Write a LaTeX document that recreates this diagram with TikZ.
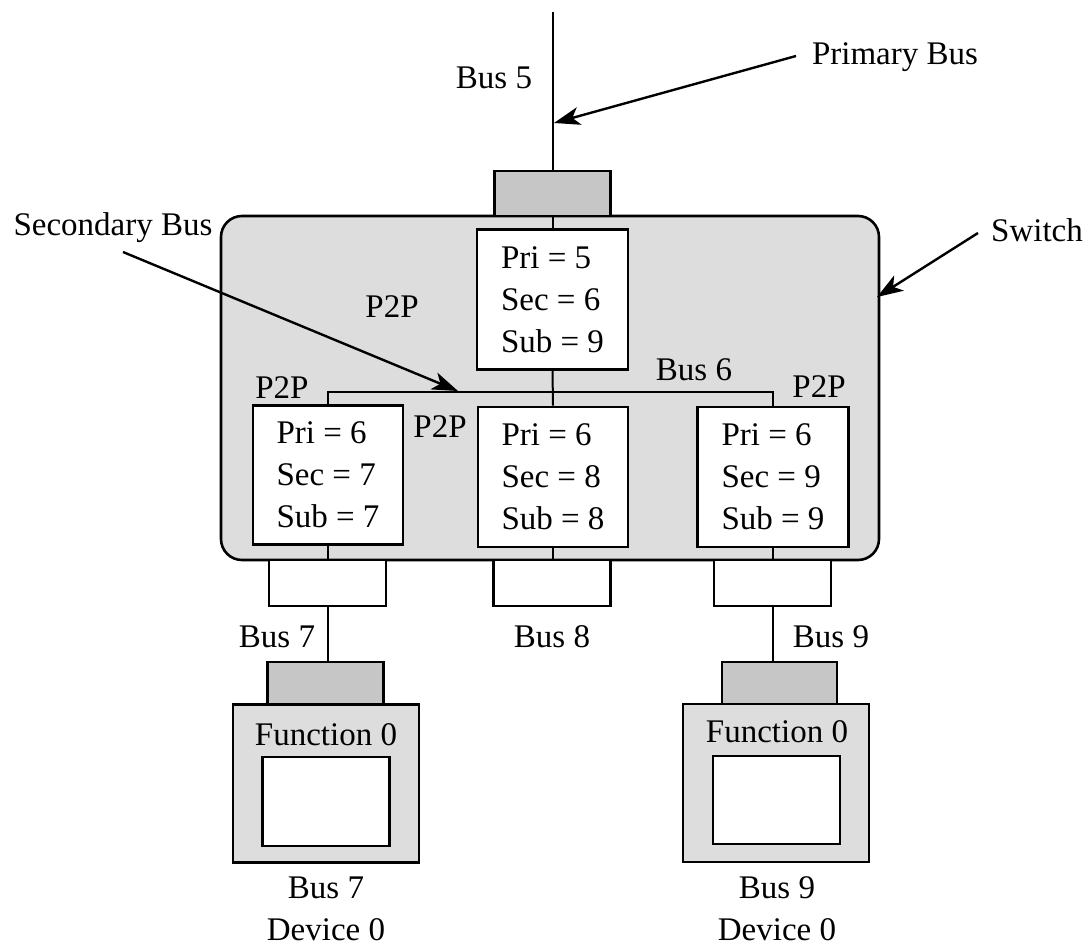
\documentclass[tikz,border=0pt]{standalone}
\usepackage{fontspec}
\setmainfont{Liberation Serif}
\usetikzlibrary{arrows.meta}
\definecolor{swgray}{RGB}{221,221,221}
\definecolor{congray}{RGB}{198,198,198}
\tikzset{
  lbl/.style={font=\fontsize{33}{42}\selectfont, inner sep=0pt, align=center},
  box/.style={draw, line width=2.6pt, inner sep=0pt, anchor=center},
  regbox/.style={box, fill=white, align=left, font=\fontsize{33}{42}\selectfont, minimum width=151pt, minimum height=140pt},
  graycon/.style={box, fill=congray},
  whitecon/.style={box, fill=white},
  busline/.style={line width=2pt},
  pointer/.style={line width=2.4pt, -{Stealth[length=26pt,width=18pt,inset=7pt]}}
}
\begin{document}
\begin{tikzpicture}[x=1pt,y=-1pt]
\useasboundingbox (0,0) rectangle (1086,952);
% switch
\node[box, fill=swgray, rounded corners=21pt, minimum width=658pt, minimum height=344pt] (sw) at (550,388) {};
% primary connector
\node[graycon, minimum width=116pt, minimum height=45pt] (pc) at (552.5,193.5) {};
\coordinate (b5top) at (553,12);
\draw[busline] (b5top) -- (b5top |- pc.north);
% P2P boxes
\node[regbox] (t) at (552.5,299.5) {Pri = 5\\Sec = 6\\Sub = 9};
\node[regbox, minimum width=150pt, minimum height=139pt] (l) at (328,475) {Pri = 6\\Sec = 7\\Sub = 7};
\node[regbox, minimum width=150pt] (m) at (553,477) {Pri = 6\\Sec = 8\\Sub = 8};
\node[regbox] (r) at (773,477) {Pri = 6\\Sec = 9\\Sub = 9};
\draw[busline] (pc.south -| t.north) -- (t.north);
\draw[busline] (t.south) -- (m.north);
\coordinate (b6l) at (328,392);
\coordinate (b6r) at (773,392);
\draw[busline] (l.north -| b6l) -- (b6l) -- (b6r) -- (b6r |- r.north);
% connectors below switch
\node[whitecon, minimum width=117pt, minimum height=46pt] (lc) at (327.5,583) {};
\node[whitecon, minimum width=117pt, minimum height=46pt] (mc) at (552,583) {};
\node[whitecon, minimum width=117pt, minimum height=46pt] (rc) at (772.5,583) {};
\draw[busline] (l.south) -- (l.south |- lc.north);
\draw[busline] (m.south) -- (m.south |- mc.north);
\draw[busline] (r.south) -- (r.south |- rc.north);
% devices
\node[graycon, minimum width=116pt, minimum height=43pt] (lg) at (325.5,683.5) {};
\node[graycon, minimum width=115pt, minimum height=42pt] (rg) at (779.5,683) {};
\draw[busline] (lc.south -| l.south) -- (lg.north -| l.south);
\draw[busline] (rc.south -| r.south) -- (rg.north -| r.south);
\node[box, fill=swgray, minimum width=186pt, minimum height=158pt] (ld) at (326,783.5) {};
\node[box, fill=swgray, minimum width=186pt, minimum height=158pt] (rd) at (776,783) {};
\node[whitecon, minimum width=127pt, minimum height=89pt] (li) at (326,801.5) {};
\node[whitecon, minimum width=127pt, minimum height=88pt] (ri) at (776.5,800) {};
\node[lbl] (lf) at (326,735) {Function 0};
\node[lbl] (rf) at (777,732) {Function 0};
\node[lbl] (ldl) at (326,909) {Bus 7\\Device 0};
\node[lbl] (rdl) at (777,909) {Bus 9\\Device 0};
% labels
\node[lbl] (bus5) at (494,78) {Bus 5};
\node[lbl] (prim) at (895,57) {Primary Bus};
\node[lbl] (swl) at (1037,230) {Switch};
\node[lbl] (secl) at (113,228) {Secondary Bus};
\node[lbl] (p2pt) at (392,307) {P2P};
\node[lbl] (p2pl) at (282,388) {P2P};
\node[lbl] (p2pm) at (440,427) {P2P};
\node[lbl] (p2pr) at (819,387) {P2P};
\node[lbl] (bus6) at (694,370) {Bus 6};
\node[lbl] (bus7) at (277,637) {Bus 7};
\node[lbl] (bus8) at (552,637) {Bus 8};
\node[lbl] (bus9) at (831,637) {Bus 9};
% pointers
\coordinate (pa) at (796,56);
\coordinate (pt) at (554,123);
\coordinate (sa) at (978,233);
\coordinate (st) at (877,297);
\coordinate (ca) at (123,252);
\coordinate (ct) at (458,391);
\draw[pointer] (pa) -- (pt);
\draw[pointer] (sa) -- (st);
\draw[pointer] (ca) -- (ct);
\end{tikzpicture}
\end{document}
